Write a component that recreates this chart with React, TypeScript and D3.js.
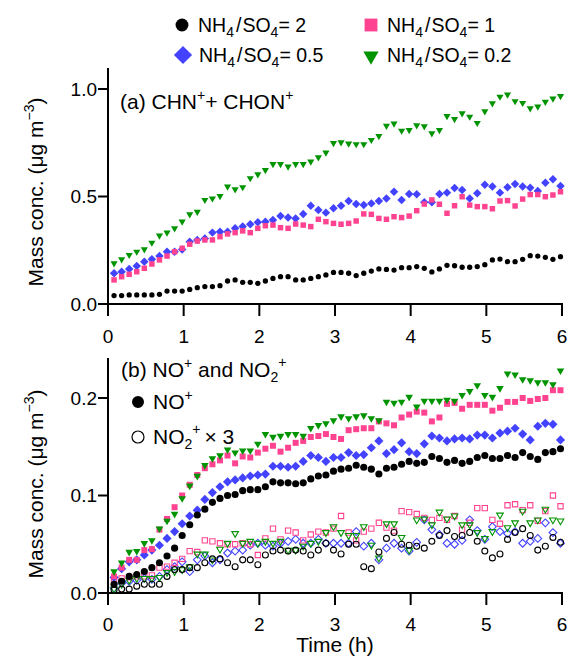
import React from "react";
import * as d3 from "d3";

// ---------- data ----------
const times = [
  0.08, 0.18, 0.28, 0.38, 0.48, 0.58, 0.68, 0.78, 0.88, 0.98,
  1.08, 1.18, 1.28, 1.38, 1.48, 1.58, 1.68, 1.78, 1.88, 1.98,
  2.08, 2.18, 2.28, 2.38, 2.48, 2.58, 2.68, 2.78, 2.88, 2.98,
  3.08, 3.18, 3.28, 3.38, 3.48, 3.58, 3.68, 3.78, 3.88, 3.98,
  4.08, 4.18, 4.28, 4.38, 4.48, 4.58, 4.68, 4.78, 4.88, 4.98,
  5.08, 5.18, 5.28, 5.38, 5.48, 5.58, 5.68, 5.78, 5.88, 5.98,
];

const seriesNames = ["2", "1", "0.5", "0.2"];
const seriesColors = ["#000000", "#ff4390", "#4343ff", "#009400"];
const seriesShapes = ["circle", "square", "diamond", "triangle"];

// (a) CHN+ + CHON+
const chnR2 = [
  0.039, 0.039, 0.042, 0.042, 0.042, 0.042, 0.045, 0.060, 0.060, 0.060,
  0.068, 0.076, 0.081, 0.081, 0.085, 0.107, 0.112, 0.101, 0.101, 0.096,
  0.107, 0.119, 0.127, 0.127, 0.112, 0.112, 0.119, 0.127, 0.135, 0.147,
  0.147, 0.143, 0.132, 0.143, 0.153, 0.163, 0.161, 0.158, 0.169, 0.169,
  0.174, 0.166, 0.149, 0.163, 0.180, 0.178, 0.171, 0.171, 0.174, 0.183,
  0.205, 0.209, 0.197, 0.197, 0.208, 0.225, 0.223, 0.217, 0.208, 0.220,
];
const chnR1 = [
  0.112, 0.127, 0.138, 0.150, 0.166, 0.186, 0.205, 0.223, 0.243, 0.259,
  0.278, 0.293, 0.298, 0.298, 0.313, 0.326, 0.332, 0.340, 0.332, 0.352,
  0.364, 0.367, 0.355, 0.352, 0.372, 0.367, 0.360, 0.394, 0.383, 0.375,
  0.371, 0.375, 0.386, 0.419, 0.417, 0.398, 0.394, 0.406, 0.402, 0.409,
  0.434, 0.465, 0.484, 0.464, 0.422, 0.457, 0.499, 0.460, 0.453, 0.453,
  0.443, 0.479, 0.481, 0.456, 0.488, 0.509, 0.509, 0.499, 0.507, 0.522,
];
const chnR05 = [
  0.143, 0.150, 0.163, 0.177, 0.197, 0.208, 0.223, 0.243, 0.243, 0.254,
  0.290, 0.298, 0.305, 0.332, 0.336, 0.336, 0.352, 0.360, 0.371, 0.380,
  0.383, 0.391, 0.409, 0.402, 0.398, 0.419, 0.457, 0.437, 0.425, 0.445,
  0.457, 0.479, 0.465, 0.460, 0.468, 0.479, 0.491, 0.522, 0.484, 0.512,
  0.510, 0.473, 0.473, 0.512, 0.518, 0.540, 0.530, 0.491, 0.515, 0.555,
  0.546, 0.518, 0.543, 0.558, 0.546, 0.541, 0.526, 0.564, 0.580, 0.549,
];
const chnR02 = [
  0.189, 0.208, 0.228, 0.243, 0.254, 0.285, 0.318, 0.332, 0.352, 0.383,
  0.417, 0.429, 0.484, 0.491, 0.502, 0.546, 0.533, 0.543, 0.585, 0.603,
  0.623, 0.651, 0.651, 0.639, 0.651, 0.651, 0.662, 0.682, 0.704, 0.748,
  0.752, 0.746, 0.743, 0.743, 0.763, 0.781, 0.829, 0.839, 0.806, 0.809,
  0.831, 0.826, 0.794, 0.809, 0.874, 0.860, 0.887, 0.871, 0.842, 0.896,
  0.933, 0.964, 0.974, 0.943, 0.935, 0.910, 0.918, 0.940, 0.955, 0.967,
];

// (b) NO+ (filled)
const noR2 = [
  0.009, 0.012, 0.017, 0.019, 0.022, 0.026, 0.031, 0.038, 0.046, 0.059,
  0.070, 0.080, 0.086, 0.093, 0.097, 0.100, 0.101, 0.105, 0.106, 0.106,
  0.109, 0.114, 0.113, 0.113, 0.112, 0.113, 0.117, 0.120, 0.121, 0.125,
  0.127, 0.128, 0.131, 0.129, 0.127, 0.122, 0.128, 0.129, 0.132, 0.135,
  0.133, 0.134, 0.140, 0.138, 0.134, 0.136, 0.133, 0.135, 0.139, 0.141,
  0.138, 0.138, 0.141, 0.139, 0.144, 0.140, 0.137, 0.144, 0.145, 0.148,
];
const noR1 = [
  0.017, 0.026, 0.034, 0.034, 0.044, 0.045, 0.065, 0.076, 0.088, 0.100,
  0.111, 0.121, 0.128, 0.132, 0.136, 0.141, 0.133, 0.140, 0.139, 0.144,
  0.148, 0.151, 0.145, 0.149, 0.154, 0.156, 0.160, 0.161, 0.163, 0.160,
  0.158, 0.167, 0.168, 0.169, 0.169, 0.176, 0.174, 0.172, 0.180, 0.183,
  0.186, 0.185, 0.176, 0.180, 0.194, 0.195, 0.189, 0.193, 0.193, 0.193,
  0.187, 0.190, 0.196, 0.196, 0.200, 0.197, 0.199, 0.200, 0.208, 0.208,
];
const noR05 = [
  0.016, 0.025, 0.032, 0.034, 0.039, 0.044, 0.049, 0.056, 0.063, 0.071,
  0.079, 0.085, 0.096, 0.103, 0.109, 0.114, 0.116, 0.118, 0.120, 0.121,
  0.122, 0.130, 0.130, 0.129, 0.130, 0.135, 0.141, 0.139, 0.135, 0.139,
  0.139, 0.144, 0.141, 0.142, 0.149, 0.156, 0.143, 0.147, 0.154, 0.145,
  0.143, 0.153, 0.161, 0.159, 0.156, 0.158, 0.159, 0.158, 0.162, 0.162,
  0.159, 0.164, 0.166, 0.169, 0.163, 0.157, 0.171, 0.174, 0.173, 0.157,
];
const noR02 = [
  0.022, 0.031, 0.042, 0.043, 0.051, 0.054, 0.066, 0.074, 0.081, 0.097,
  0.110, 0.120, 0.131, 0.138, 0.141, 0.147, 0.144, 0.146, 0.146, 0.153,
  0.163, 0.160, 0.161, 0.163, 0.163, 0.161, 0.169, 0.172, 0.174, 0.177,
  0.181, 0.179, 0.181, 0.182, 0.179, 0.177, 0.196, 0.195, 0.196, 0.201,
  0.191, 0.197, 0.197, 0.197, 0.198, 0.197, 0.203, 0.207, 0.213, 0.203,
  0.201, 0.210, 0.225, 0.224, 0.219, 0.218, 0.216, 0.216, 0.214, 0.228,
];

// (b) NO2+ x 3 (open)
const no2R2 = [
  0.003, 0.004, 0.004, 0.007, 0.009, 0.009, 0.009, 0.017, 0.024, 0.024,
  0.026, 0.026, 0.031, 0.035, 0.035, 0.031, 0.027, 0.034, 0.034, 0.029,
  0.039, 0.043, 0.044, 0.043, 0.044, 0.043, 0.039, 0.044, 0.051, 0.044,
  0.040, 0.050, 0.050, 0.027, 0.025, 0.042, 0.056, 0.062, 0.050, 0.049,
  0.048, 0.046, 0.053, 0.059, 0.064, 0.058, 0.059, 0.062, 0.053, 0.043,
  0.036, 0.040, 0.055, 0.062, 0.066, 0.059, 0.044, 0.048, 0.057, 0.052,
];
const no2R1 = [
  0.014, 0.015, 0.016, 0.017, 0.017, 0.018, 0.026, 0.027, 0.031, 0.035,
  0.043, 0.042, 0.054, 0.053, 0.051, 0.050, 0.050, 0.051, 0.050, 0.039,
  0.056, 0.066, 0.055, 0.064, 0.062, 0.054, 0.060, 0.063, 0.062, 0.066,
  0.079, 0.062, 0.054, 0.063, 0.066, 0.072, 0.067, 0.064, 0.084, 0.083,
  0.081, 0.077, 0.075, 0.077, 0.075, 0.079, 0.065, 0.072, 0.087, 0.087,
  0.075, 0.071, 0.090, 0.091, 0.085, 0.090, 0.074, 0.084, 0.100, 0.089,
];
const no2R05 = [
  0.005, 0.010, 0.012, 0.013, 0.015, 0.014, 0.017, 0.024, 0.027, 0.032,
  0.022, 0.034, 0.038, 0.031, 0.034, 0.041, 0.043, 0.044, 0.049, 0.051,
  0.049, 0.048, 0.051, 0.053, 0.055, 0.051, 0.051, 0.055, 0.051, 0.051,
  0.051, 0.051, 0.063, 0.048, 0.051, 0.034, 0.046, 0.051, 0.046, 0.043,
  0.052, 0.075, 0.065, 0.060, 0.051, 0.050, 0.054, 0.075, 0.064, 0.055,
  0.068, 0.063, 0.061, 0.063, 0.051, 0.053, 0.056, 0.072, 0.062, 0.051,
];
const no2R02 = [
  0.004, 0.009, 0.013, 0.015, 0.015, 0.015, 0.016, 0.021, 0.022, 0.024,
  0.027, 0.040, 0.040, 0.034, 0.045, 0.051, 0.061, 0.051, 0.053, 0.051,
  0.053, 0.051, 0.053, 0.044, 0.044, 0.048, 0.051, 0.053, 0.062, 0.068,
  0.062, 0.059, 0.059, 0.068, 0.049, 0.036, 0.071, 0.071, 0.057, 0.044,
  0.075, 0.076, 0.070, 0.083, 0.076, 0.079, 0.070, 0.070, 0.062, 0.056,
  0.063, 0.080, 0.067, 0.072, 0.084, 0.072, 0.075, 0.086, 0.075, 0.074,
];

const xTicks = [0, 1, 2, 3, 4, 5, 6];
const yTicksA = [0, 0.5, 1.0];
const yTicksB = [0, 0.1, 0.2];

// ---------- helpers ----------
const FONT = "'Liberation Sans', Arial, Helvetica, sans-serif";

function symbolPath(shape: string, area: number) {
  let type: any = d3.symbolCircle;
  if (shape === "square" || shape === "diamond") type = d3.symbolSquare;
  if (shape === "triangle") type = d3.symbolTriangle;
  return d3.symbol().type(type).size(area)() as string;
}
function symbolRot(shape: string) {
  if (shape === "diamond") return 45;
  if (shape === "triangle") return 180;
  return 0;
}

type MarkerProps = {
  x: number;
  y: number;
  shape: string;
  area: number;
  color: string;
  open?: boolean;
};
function Marker({ x, y, shape, area, color, open }: MarkerProps) {
  return (
    <path
      d={symbolPath(shape, area)}
      transform={`translate(${x},${y}) rotate(${symbolRot(shape)})`}
      fill={open ? "none" : color}
      stroke={open ? color : "none"}
      strokeWidth={open ? 1.1 : 0}
    />
  );
}

const W = 574;
const H = 656;
const xLeft = 108;
const xRight = 562;

export default function App() {
  const x = d3.scaleLinear().domain([0, 6]).range([xLeft, xRight]);
  const yA = d3.scaleLinear().domain([0, 1.0]).range([304, 89]);
  const yB = d3.scaleLinear().domain([0, 0.2]).range([593, 398]);

  const seriesA = [chnR2, chnR1, chnR05, chnR02];
  const seriesNO = [noR2, noR1, noR05, noR02];
  const seriesNO2 = [no2R2, no2R1, no2R05, no2R02];

  const areaA = [22, 30, 36, 22];
  const areaB = [40, 36, 42, 25];
  const areaOpen = [28, 28, 30, 19];
  const drawOrder = [2, 1, 3, 0];

  const tickFs = 19;
  const titleFs = 21;

  const axis = (y: any, yTop: number, ticks: number[], fmt: (v: number) => string) => (
    <g>
      <line x1={xLeft} x2={xLeft} y1={yTop} y2={y(0) + 1} stroke="#000" strokeWidth={2} />
      <line x1={xLeft - 1} x2={xRight + 1} y1={y(0)} y2={y(0)} stroke="#000" strokeWidth={2} />
      {ticks.map((t) => (
        <g key={"yt" + t}>
          <line x1={xLeft - 10} x2={xLeft} y1={y(t)} y2={y(t)} stroke="#000" strokeWidth={2} />
          <text
            x={xLeft - 11}
            y={y(t)}
            dy="0.35em"
            textAnchor="end"
            fontSize={tickFs}
            fontFamily={FONT}
          >
            {fmt(t)}
          </text>
        </g>
      ))}
      {xTicks.map((t) => (
        <line
          key={"xt" + t}
          x1={x(t)}
          x2={x(t)}
          y1={y(0)}
          y2={y(0) + 12}
          stroke="#000"
          strokeWidth={2}
        />
      ))}
    </g>
  );

  const yTitle = (cy: number) => (
    <text
      transform={`translate(43,${cy}) rotate(-90)`}
      textAnchor="middle"
      fontSize={titleFs}
      fontFamily={FONT}
    >
      Mass conc. (μg m
      <tspan dy={-9} fontSize={14}>−3</tspan>
      <tspan dy={9}>)</tspan>
    </text>
  );

  const legendLabel = (name: string, lx: number, ly: number) => (
    <text x={lx} y={ly} fontSize={19.5} fontFamily={FONT}>
      NH
      <tspan dy={5} fontSize={14}>4</tspan>
      <tspan dy={-5} dx={2}>/</tspan>
      <tspan dx={1}>SO</tspan>
      <tspan dy={5} fontSize={14}>4</tspan>
      <tspan dy={-5}>{"= " + name}</tspan>
    </text>
  );

  const legendPos = [
    { mx: 182, my: 25 },
    { mx: 371, my: 25 },
    { mx: 183, my: 55 },
    { mx: 371, my: 55 },
  ];
  const legendArea = [130, 165, 165, 100];

  return (
    <svg width={W} height={H} style={{ display: "block", position: "absolute", left: 0, top: 0 }}>
      <rect x={0} y={0} width={W} height={H} fill="#fff" />

      {/* legend */}
      {seriesNames.map((n, i) => (
        <g key={"lg" + i}>
          <Marker
            x={legendPos[i].mx}
            y={legendPos[i].my + (i === 3 ? 1 : 0)}
            shape={seriesShapes[i]}
            area={legendArea[i]}
            color={seriesColors[i]}
          />
          {legendLabel(n, legendPos[i].mx + 16, legendPos[i].my + 7)}
        </g>
      ))}

      {/* panel a */}
      {axis(yA, 68, yTicksA, (v) => d3.format(".1f")(v))}
      {drawOrder.map((si) => (
        <g key={"a" + si}>
          {seriesA[si].map((v, j) => (
            <Marker
              key={j}
              x={x(times[j])}
              y={yA(v)}
              shape={seriesShapes[si]}
              area={areaA[si]}
              color={seriesColors[si]}
            />
          ))}
        </g>
      ))}
      <text x={120} y={109} fontSize={titleFs} fontFamily={FONT}>
        (a) CHN
        <tspan dy={-9} fontSize={14}>+</tspan>
        <tspan dy={9}>+ CHON</tspan>
        <tspan dy={-9} fontSize={14}>+</tspan>
      </text>

      {/* x tick labels between panels */}
      {xTicks.map((t) => (
        <text
          key={"xl" + t}
          x={x(t)}
          y={343}
          textAnchor="middle"
          fontSize={tickFs}
          fontFamily={FONT}
        >
          {t}
        </text>
      ))}

      {/* panel b */}
      {axis(yB, 358, yTicksB, (v) => d3.format(".1f")(v))}
      {drawOrder.map((si) => (
        <g key={"bo" + si}>
          {seriesNO2[si].map((v, j) => (
            <Marker
              key={j}
              x={x(times[j])}
              y={yB(v)}
              shape={seriesShapes[si]}
              area={areaOpen[si]}
              color={seriesColors[si]}
              open
            />
          ))}
        </g>
      ))}
      {drawOrder.map((si) => (
        <g key={"bf" + si}>
          {seriesNO[si].map((v, j) => (
            <Marker
              key={j}
              x={x(times[j])}
              y={yB(v)}
              shape={seriesShapes[si]}
              area={areaB[si]}
              color={seriesColors[si]}
            />
          ))}
        </g>
      ))}
      <text x={121} y={377} fontSize={titleFs} fontFamily={FONT}>
        (b) NO
        <tspan dy={-9} fontSize={14}>+</tspan>
        <tspan dy={9}> and NO</tspan>
        <tspan dy={5} fontSize={14}>2</tspan>
        <tspan dy={-15} fontSize={14}>+</tspan>
      </text>
      <Marker x={138} y={402} shape="circle" area={113} color="#000" />
      <text x={153} y={409} fontSize={titleFs} fontFamily={FONT}>
        NO
        <tspan dy={-9} fontSize={14}>+</tspan>
      </text>
      <circle cx={138} cy={437} r={6} fill="none" stroke="#000" strokeWidth={1.2} />
      <text x={153} y={444} fontSize={titleFs} fontFamily={FONT}>
        NO
        <tspan dy={5} fontSize={14}>2</tspan>
        <tspan dy={-15} fontSize={14}>+</tspan>
        <tspan dy={10} dx={4}>× 3</tspan>
      </text>

      {/* x tick labels bottom */}
      {xTicks.map((t) => (
        <text
          key={"xb" + t}
          x={x(t)}
          y={631}
          textAnchor="middle"
          fontSize={tickFs}
          fontFamily={FONT}
        >
          {t}
        </text>
      ))}
      <text x={x(3)} y={652} textAnchor="middle" fontSize={titleFs} fontFamily={FONT}>
        Time (h)
      </text>

      {yTitle(192)}
      {yTitle(484)}
    </svg>
  );
}
